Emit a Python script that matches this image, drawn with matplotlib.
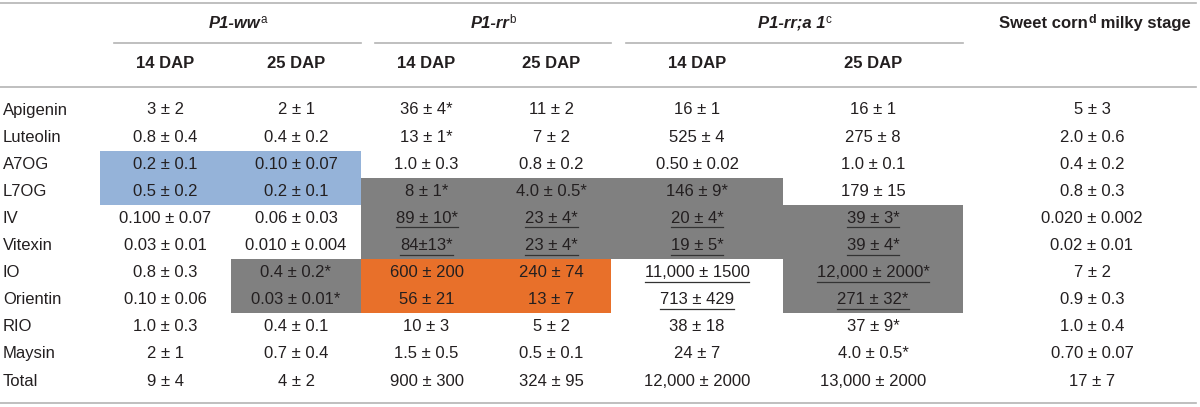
import matplotlib
matplotlib.use("Agg")
import matplotlib.pyplot as plt
from matplotlib.patches import Rectangle

plt.rcParams["font.family"] = ["Liberation Sans", "DejaVu Sans"]

# table content
compounds = ["Apigenin", "Luteolin", "A7OG", "L7OG", "IV", "Vitexin", "IO",
             "Orientin", "RIO", "Maysin", "Total"]
ww_14 = ["3 ± 2", "0.8 ± 0.4", "0.2 ± 0.1", "0.5 ± 0.2", "0.100 ± 0.07", "0.03 ± 0.01",
         "0.8 ± 0.3", "0.10 ± 0.06", "1.0 ± 0.3", "2 ± 1", "9 ± 4"]
ww_25 = ["2 ± 1", "0.4 ± 0.2", "0.10 ± 0.07", "0.2 ± 0.1", "0.06 ± 0.03", "0.010 ± 0.004",
         "0.4 ± 0.2*", "0.03 ± 0.01*", "0.4 ± 0.1", "0.7 ± 0.4", "4 ± 2"]
rr_14 = ["36 ± 4*", "13 ± 1*", "1.0 ± 0.3", "8 ± 1*", "89 ± 10*", "84±13*",
         "600 ± 200", "56 ± 21", "10 ± 3", "1.5 ± 0.5", "900 ± 300"]
rr_25 = ["11 ± 2", "7 ± 2", "0.8 ± 0.2", "4.0 ± 0.5*", "23 ± 4*", "23 ± 4*",
         "240 ± 74", "13 ± 7", "5 ± 2", "0.5 ± 0.1", "324 ± 95"]
a1_14 = ["16 ± 1", "525 ± 4", "0.50 ± 0.02", "146 ± 9*", "20 ± 4*", "19 ± 5*",
         "11,000 ± 1500", "713 ± 429", "38 ± 18", "24 ± 7", "12,000 ± 2000"]
a1_25 = ["16 ± 1", "275 ± 8", "1.0 ± 0.1", "179 ± 15", "39 ± 3*", "39 ± 4*",
         "12,000 ± 2000*", "271 ± 32*", "37 ± 9*", "4.0 ± 0.5*", "13,000 ± 2000"]
sweet = ["5 ± 3", "2.0 ± 0.6", "0.4 ± 0.2", "0.8 ± 0.3", "0.020 ± 0.002", "0.02 ± 0.01",
         "7 ± 2", "0.9 ± 0.3", "1.0 ± 0.4", "0.70 ± 0.07", "17 ± 7"]
columns = [ww_14, ww_25, rr_14, rr_25, a1_14, a1_25, sweet]
sub_headers = ["14 DAP", "25 DAP", "14 DAP", "25 DAP", "14 DAP", "25 DAP"]
groups = [("P1-ww", "a"), ("P1-rr", "b"), ("P1-rr;a 1", "c")]

# layout (pixels)
col_edges = [0, 100, 231, 361, 492, 611, 783, 963, 1200]
col_x = [(col_edges[i] + col_edges[i + 1]) / 2 for i in range(1, 7)] + [1092]
group_lines = [(114, 361), (375, 611), (626, 963)]
row_y0, row_h = 110, 27.1
BLUE, GRAY, ORANGE = "#95b3d9", "#808080", "#e8702a"
shade = {}
for r in (2, 3):
    for c in (0, 1):
        shade[(r, c)] = BLUE
for c in (2, 3, 4):
    shade[(3, c)] = GRAY
for r in (4, 5):
    for c in (2, 3, 4, 5):
        shade[(r, c)] = GRAY
for r in (6, 7):
    shade[(r, 1)] = GRAY
    shade[(r, 2)] = ORANGE
    shade[(r, 3)] = ORANGE
    shade[(r, 5)] = GRAY
underlined = {(r, c) for r in (4, 5) for c in (2, 3, 4, 5)} | {(r, c) for r in (6, 7) for c in (4, 5)}

FS = 12
TXT = "#231f20"
LINE = "#b4b4b4"

fig = plt.figure(figsize=(12, 4.07), dpi=100)
ax = fig.add_axes([0, 0, 1, 1])
ax.set_xlim(0, 1200)
ax.set_ylim(407, 0)
ax.axis("off")

for (r, c), col in shade.items():
    y = row_y0 + r * row_h
    ax.add_patch(Rectangle((col_edges[c + 1], y - row_h / 2), col_edges[c + 2] - col_edges[c + 1],
                           row_h, color=col, lw=0))

for y in (3, 87, 403):
    ax.plot([0, 1196], [y, y], color=LINE, lw=1.2)
for x0, x1 in group_lines:
    ax.plot([x0, x1], [43, 43], color=LINE, lw=1.2)

cells = []
for r, name in enumerate(compounds):
    y = row_y0 + r * row_h
    ax.text(3, y, name, ha="left", va="center", fontsize=FS, color=TXT)
    for c, vals in enumerate(columns):
        t = ax.text(col_x[c], y, vals[r], ha="center", va="center", fontsize=FS, color=TXT)
        cells.append(((r, c), t))

for c, s in enumerate(sub_headers):
    ax.text(col_x[c], 64, s, ha="center", va="center", fontsize=FS, fontweight="bold", color=TXT)


def rich(cx, base, parts):
    # pieces of one header laid side by side, centred on cx
    arts = [ax.text(0, base - dy, s, ha="left", va="baseline", color=TXT, **kw)
            for s, kw, dy in parts]
    fig.canvas.draw()
    rend = fig.canvas.get_renderer()
    widths = [a.get_window_extent(rend).width for a in arts]
    x = cx - sum(widths) / 2
    for a, w in zip(arts, widths):
        a.set_x(x)
        x += w


head_base = 28
for (name, sup), (x0, x1) in zip(groups, group_lines):
    rich((x0 + x1) / 2, head_base,
         [(name, dict(fontsize=FS, fontweight="bold", fontstyle="italic"), 0),
          (sup, dict(fontsize=FS * 0.7), 5)])
rich(1095, head_base,
     [("Sweet corn", dict(fontsize=FS, fontweight="bold"), 0),
      ("d", dict(fontsize=FS * 0.75, fontweight="bold"), 5),
      (" milky stage", dict(fontsize=FS, fontweight="bold"), 0)])

# underline marked cells
fig.canvas.draw()
rend = fig.canvas.get_renderer()
inv = ax.transData.inverted()
for key, t in cells:
    if key in underlined:
        bb = t.get_window_extent(rend)
        (xa, ya), (xb, yb) = inv.transform([(bb.x0, bb.y0), (bb.x1, bb.y1)])
        ax.plot([xa, xb], [ya + 1.5, ya + 1.5], color="#333333", lw=0.9)

fig.savefig("out.png", dpi=100)
